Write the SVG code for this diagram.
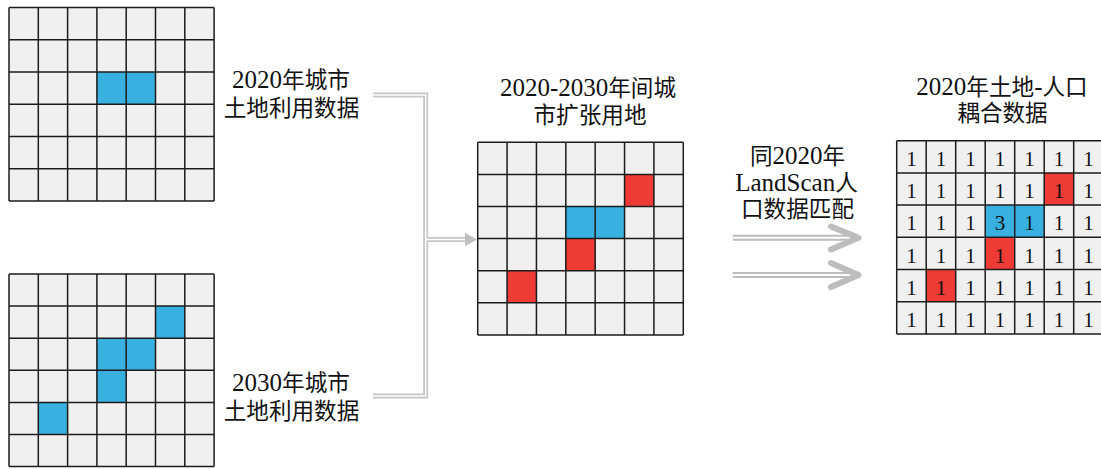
<svg xmlns="http://www.w3.org/2000/svg" width="1101" height="469" viewBox="0 0 1101 469">
<style>
.bg{fill:#f0f0f0}
.gl{fill:none;stroke:#1c1c1c;stroke-width:1.5}
.b{fill:#38b0e0}
.r{fill:#ee3b36}
.t{font-family:"Liberation Serif","Noto Sans CJK SC",serif;font-size:25px;fill:#111;text-anchor:middle}
.c{font-family:"Noto Sans CJK SC",sans-serif;font-size:22.6px}
.n{font-family:"Liberation Serif",serif;font-size:21px;fill:#111;text-anchor:middle}
.cg{fill:none;stroke:#c6c6c6;stroke-width:5}
.cw{fill:none;stroke:#fff;stroke-width:1.6}
.ag{fill:none;stroke:#bdbdbd;stroke-width:6}
.aw{fill:none;stroke:#fff;stroke-width:2}
.ah{fill:none;stroke:#bdbdbd;stroke-width:6;stroke-linecap:round;stroke-linejoin:round}
</style>
<rect width="1101" height="469" fill="#fff"/>

<g id="grid2020">
<rect class="bg" x="9" y="7.5" width="205.1" height="193.5"/>
<rect class="b" x="96.9" y="72" width="29.3" height="32.25"/>
<rect class="b" x="126.2" y="72" width="29.3" height="32.25"/>
<path class="gl" d="M9,7.5V201M38.3,7.5V201M67.6,7.5V201M96.9,7.5V201M126.2,7.5V201M155.5,7.5V201M184.8,7.5V201M214.1,7.5V201M9,7.5H214.1M9,39.75H214.1M9,72H214.1M9,104.25H214.1M9,136.5H214.1M9,168.75H214.1M9,201H214.1"/>
</g>

<g id="label2020">
<text class="t" x="291" y="87.5">2020<tspan class="c">年城市</tspan></text>
<text class="t" x="291.5" y="115.5"><tspan class="c">土地利用数据</tspan></text>
</g>

<g id="grid2030">
<rect class="bg" x="9" y="274" width="205.1" height="192.6"/>
<rect class="b" x="155.5" y="306.1" width="29.3" height="32.1"/>
<rect class="b" x="96.9" y="338.2" width="29.3" height="32.1"/>
<rect class="b" x="126.2" y="338.2" width="29.3" height="32.1"/>
<rect class="b" x="96.9" y="370.3" width="29.3" height="32.1"/>
<rect class="b" x="38.3" y="402.4" width="29.3" height="32.1"/>
<path class="gl" d="M9,274V466.6M38.3,274V466.6M67.6,274V466.6M96.9,274V466.6M126.2,274V466.6M155.5,274V466.6M184.8,274V466.6M214.1,274V466.6M9,274H214.1M9,306.1H214.1M9,338.2H214.1M9,370.3H214.1M9,402.4H214.1M9,434.5H214.1M9,466.6H214.1"/>
</g>

<g id="label2030">
<text class="t" x="291" y="391">2030<tspan class="c">年城市</tspan></text>
<text class="t" x="291.5" y="418.5"><tspan class="c">土地利用数据</tspan></text>
</g>

<g id="connectors">
<path class="cg" d="M373,95H425.7V396H373M425.7,239.5H467"/>
<path class="cw" d="M373,95H425.7V396H373M425.7,239.5H467"/>
<polygon points="465,232.7 477,239.5 465,246.3" fill="#c0c0c0"/>
<path class="ag" d="M732.7,237.7H855M732.7,275H855"/>
<path class="aw" d="M732.7,237.7H853M732.7,275H853"/>
<path class="ah" d="M831,226.5L858.5,237.7L831,249.5M831,263L858.5,275L831,287"/>
</g>

<g id="expansion">
<text class="t" x="588" y="96">2020-2030<tspan class="c">年间城</tspan></text>
<text class="t" x="590" y="122.5"><tspan class="c">市扩张用地</tspan></text>
<rect class="bg" x="477.7" y="142.3" width="205.6" height="192.6"/>
<rect class="r" x="624.55" y="174.4" width="29.37" height="32.1"/>
<rect class="b" x="565.81" y="206.5" width="29.37" height="32.1"/>
<rect class="b" x="595.18" y="206.5" width="29.37" height="32.1"/>
<rect class="r" x="565.81" y="238.6" width="29.37" height="32.1"/>
<rect class="r" x="507.07" y="270.7" width="29.37" height="32.1"/>
<path class="gl" d="M477.7,142.3V334.9M507.07,142.3V334.9M536.44,142.3V334.9M565.81,142.3V334.9M595.18,142.3V334.9M624.55,142.3V334.9M653.92,142.3V334.9M683.3,142.3V334.9M477.7,142.3H683.3M477.7,174.4H683.3M477.7,206.5H683.3M477.7,238.6H683.3M477.7,270.7H683.3M477.7,302.8H683.3M477.7,334.9H683.3"/>
</g>

<g id="matchLabel">
<text class="t" x="797.5" y="163.5"><tspan class="c">同</tspan>2020<tspan class="c">年</tspan></text>
<text class="t" x="796.5" y="191">LandScan<tspan class="c">人</tspan></text>
<text class="t" x="797.5" y="216.5"><tspan class="c">口数据匹配</tspan></text>
</g>

<g id="coupled">
<text class="t" x="1002" y="95">2020<tspan class="c">年土地</tspan>-<tspan class="c">人口</tspan></text>
<text class="t" x="1002.5" y="120.5"><tspan class="c">耦合数据</tspan></text>
<rect class="bg" x="896.7" y="140.7" width="206.5" height="193.2"/>
<rect class="r" x="1044.2" y="172.9" width="29.5" height="32.2"/>
<rect class="b" x="985.2" y="205.1" width="29.5" height="32.2"/>
<rect class="b" x="1014.7" y="205.1" width="29.5" height="32.2"/>
<rect class="r" x="985.2" y="237.3" width="29.5" height="32.2"/>
<rect class="r" x="926.2" y="269.5" width="29.5" height="32.2"/>
<path class="gl" d="M896.7,140.7V333.9M926.2,140.7V333.9M955.7,140.7V333.9M985.2,140.7V333.9M1014.7,140.7V333.9M1044.2,140.7V333.9M1073.7,140.7V333.9M1103.2,140.7V333.9M896.7,140.7H1103.2M896.7,172.9H1103.2M896.7,205.1H1103.2M896.7,237.3H1103.2M896.7,269.5H1103.2M896.7,301.7H1103.2M896.7,333.9H1103.2"/>
<g>
<text class="n" x="911.45" y="166">1</text><text class="n" x="940.95" y="166">1</text><text class="n" x="970.45" y="166">1</text><text class="n" x="999.95" y="166">1</text><text class="n" x="1029.45" y="166">1</text><text class="n" x="1058.95" y="166">1</text><text class="n" x="1088.45" y="166">1</text>
<text class="n" x="911.45" y="198.2">1</text><text class="n" x="940.95" y="198.2">1</text><text class="n" x="970.45" y="198.2">1</text><text class="n" x="999.95" y="198.2">1</text><text class="n" x="1029.45" y="198.2">1</text><text class="n" x="1058.95" y="198.2">1</text><text class="n" x="1088.45" y="198.2">1</text>
<text class="n" x="911.45" y="230.4">1</text><text class="n" x="940.95" y="230.4">1</text><text class="n" x="970.45" y="230.4">1</text><text class="n" x="999.95" y="230.4">3</text><text class="n" x="1029.45" y="230.4">1</text><text class="n" x="1058.95" y="230.4">1</text><text class="n" x="1088.45" y="230.4">1</text>
<text class="n" x="911.45" y="262.6">1</text><text class="n" x="940.95" y="262.6">1</text><text class="n" x="970.45" y="262.6">1</text><text class="n" x="999.95" y="262.6">1</text><text class="n" x="1029.45" y="262.6">1</text><text class="n" x="1058.95" y="262.6">1</text><text class="n" x="1088.45" y="262.6">1</text>
<text class="n" x="911.45" y="294.8">1</text><text class="n" x="940.95" y="294.8">1</text><text class="n" x="970.45" y="294.8">1</text><text class="n" x="999.95" y="294.8">1</text><text class="n" x="1029.45" y="294.8">1</text><text class="n" x="1058.95" y="294.8">1</text><text class="n" x="1088.45" y="294.8">1</text>
<text class="n" x="911.45" y="327">1</text><text class="n" x="940.95" y="327">1</text><text class="n" x="970.45" y="327">1</text><text class="n" x="999.95" y="327">1</text><text class="n" x="1029.45" y="327">1</text><text class="n" x="1058.95" y="327">1</text><text class="n" x="1088.45" y="327">1</text>
</g>
</g>
</svg>
